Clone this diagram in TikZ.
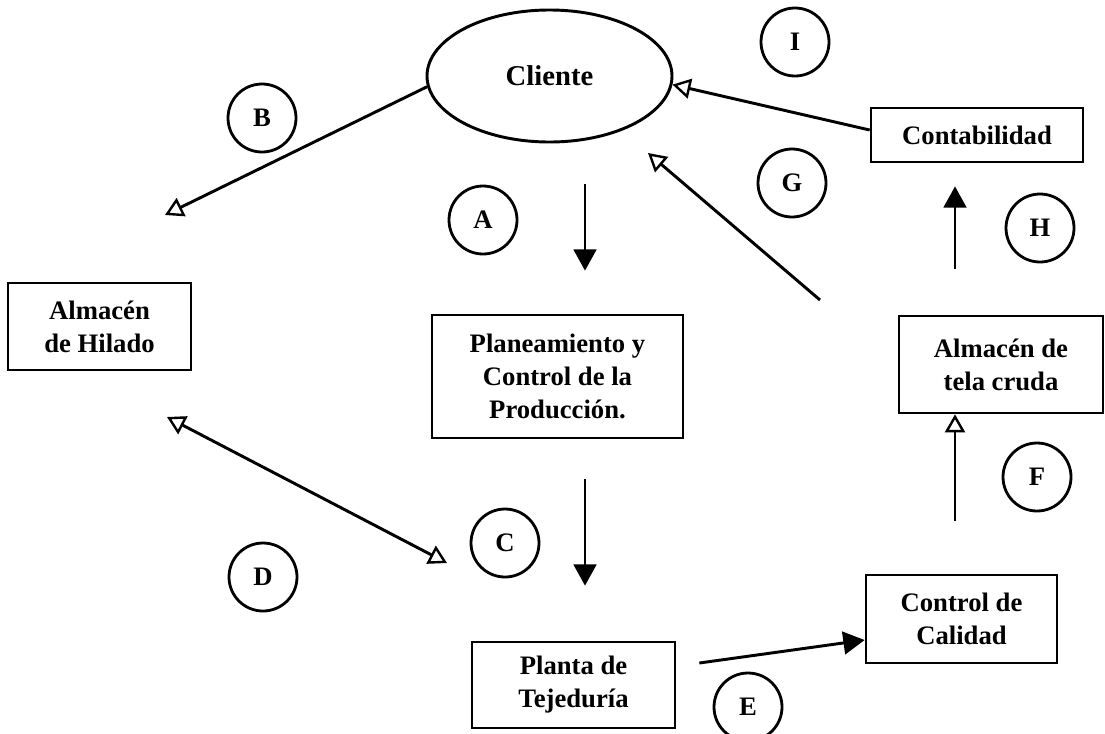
\documentclass[tikz,border=0pt]{standalone}
\usepackage{fontspec}
\setmainfont{Liberation Serif}
\usetikzlibrary{arrows.meta,shapes.geometric}
\begin{document}
\begin{tikzpicture}[x=0.75pt,y=-0.75pt,
  every node/.style={font=\bfseries\fontsize{20}{24.75}\selectfont},
  box/.style={draw,line width=2pt,align=center,inner sep=0pt},
  tag/.style={draw,circle,line width=2.1pt,minimum size=51pt,inner sep=0pt,
              font=\bfseries\fontsize{20}{22}\selectfont},
  link/.style={line width=2.2pt},
  hollow/.style={link,-{Triangle[open,length=13.5pt,width=15pt,line width=1.8pt]}},
  hollowboth/.style={link,{Triangle[open,length=13.5pt,width=15pt,line width=1.8pt]}-{Triangle[open,length=13.5pt,width=15pt,line width=1.8pt]}},
  fillhead/.style={link,-{Triangle[length=16pt,width=17pt]}}
]
\useasboundingbox (0,0) rectangle (1105,733);

% departments
\node[draw,ellipse,line width=2.2pt,minimum width=183.75pt,minimum height=99pt,inner sep=0pt,
      font=\bfseries\fontsize{21.5}{24}\selectfont]
  (cli) at (549.5,76) {Cliente};
\node[box,minimum width=137.25pt,minimum height=65.25pt] (hil) at (99.5,326.5) {Almacén\\de Hilado};
\node[box,minimum width=188.25pt,minimum height=92.25pt] (plan) at (557.5,376.5) {Planeamiento y\\Control de la\\Producción.};
\node[box,minimum width=152.25pt,minimum height=64.5pt] (tej) at (573.5,685) {Planta de\\Tejeduría};
\node[box,minimum width=143.25pt,minimum height=66pt] (cal) at (961.5,619) {Control de\\Calidad};
\node[box,minimum width=153pt,minimum height=72.75pt] (cru) at (1001,364.5) {Almacén de\\tela cruda};
\node[box,minimum width=159pt,minimum height=40.5pt] (con) at (977,135) {Contabilidad};

% flow labels
\node[tag] (tA) at (483,220) {A};
\node[tag] (tB) at (262,118) {B};
\node[tag] (tC) at (505,543) {C};
\node[tag] (tD) at (263,577) {D};
\node[tag] (tE) at (748,707) {E};
\node[tag] (tF) at (1037,477) {F};
\node[tag] (tG) at (792,183) {G};
\node[tag] (tH) at (1040,228) {H};
\node[tag] (tI) at (795,42) {I};

% helper coordinates
\coordinate (colA) at (585,0);
\coordinate (colH) at (955,0);
\coordinate (bEnd) at (165,215);
\coordinate (gFrom) at (820,300);
\coordinate (gTo) at (648,153);
\coordinate (dTop) at (167,417);
\coordinate (dBot) at (447,563);

% flows
\draw[fillhead,shorten <=30.75pt,shorten >=32.25pt] (cli.south -| colA) -- (plan.north -| colA);
\draw[hollow] (cli.185) -- (bEnd);
\draw[fillhead,shorten <=30pt,shorten >=41.25pt] (plan.south -| colA) -- (tej.north -| colA);
\draw[hollowboth] (dTop) -- (dBot);
\draw[fillhead] ([shift={(17.25pt,16.5pt)}]tej.east) -- ([yshift=-15.75pt]cal.west);
\draw[hollow,shorten <=39.75pt] (cal.north -| colH) -- (cru.south -| colH);
\draw[hollow] (gFrom) -- (gTo);
\draw[fillhead,shorten <=34.5pt,shorten >=17.25pt] (cru.north -| colH) -- (con.south -| colH);
\draw[hollow] ([yshift=3.75pt]con.west) -- (cli.-4);
\end{tikzpicture}
\end{document}
